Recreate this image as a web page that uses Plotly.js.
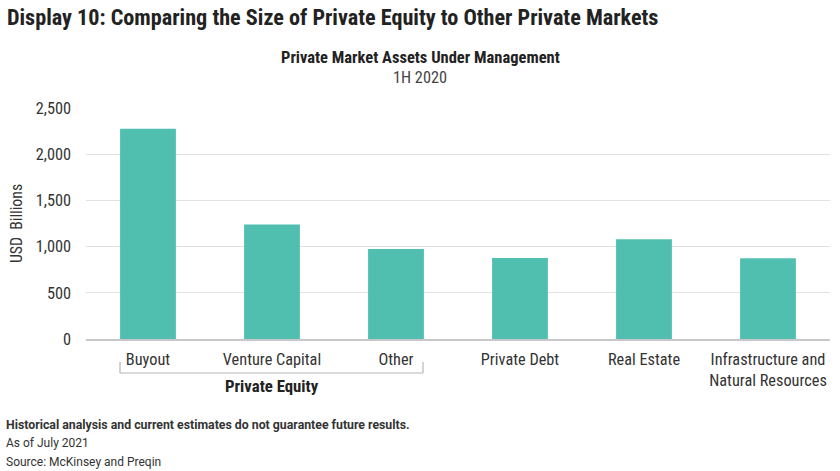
<!DOCTYPE html>
<html>
<head>
<meta charset="utf-8">
<script src="https://cdn.plot.ly/plotly-3.0.1.min.js"></script>
<style>
html,body{margin:0;padding:0;background:#fff;}
#chart{width:840px;height:471px;}
text{font-stretch:condensed;}
</style>
</head>
<body>
<div id="chart"></div>
<script>
var categories = ["Buyout", "Venture Capital", "Other", "Private Debt", "Real Estate", "Infrastructure and<br>Natural Resources"];
var aumValues = [2275, 1240, 975, 877, 1080, 873];
var yTickVals = [0, 500, 1000, 1500, 2000, 2500];
var yTickText = ["0", "500", "1,000", "1,500", "2,000", "2,500"];

var condFont = "Roboto, sans-serif";
var footFont = "Roboto, sans-serif";

var trace = {
  type: "bar",
  x: categories,
  y: aumValues,
  marker: {color: "#50bfaf", line: {width: 0}},
  hoverinfo: "none"
};

function footer(t, bold) {
  var s = '<span style="font-stretch:normal">' + t + '</span>';
  return bold ? '<b>' + s + '</b>' : s;
}

var layout = {
  width: 840, height: 471,
  margin: {l: 86, r: 10, t: 108, b: 132},
  paper_bgcolor: "#fff", plot_bgcolor: "#fff",
  showlegend: false,
  bargap: 0.55,
  xaxis: {
    type: "category",
    showgrid: false,
    showline: true, linecolor: "#c8c8c8", linewidth: 1.5,
    ticks: "",
    tickfont: {family: condFont, size: 16.3, color: "#333"},
    ticklabelstandoff: 5,
    fixedrange: true
  },
  yaxis: {
    range: [0, 2500],
    tickvals: yTickVals, ticktext: yTickText,
    showgrid: true, gridcolor: "#e2e2e2", gridwidth: 1,
    zeroline: false, showline: false, ticks: "",
    tickfont: {family: condFont, size: 16.3, color: "#333"},
    ticklabelstandoff: 14,
    title: {text: "USD  Billions", font: {family: condFont, size: 15.8, color: "#333"}, standoff: 9},
    fixedrange: true
  },
  shapes: [
    {type: "line", xref: "paper", yref: "paper", x0: (120-86)/744, x1: (120-86)/744, y0: -(362-339)/231, y1: -(373-339)/231, line: {color: "#b5b5b5", width: 1.2}},
    {type: "line", xref: "paper", yref: "paper", x0: (423-86)/744, x1: (423-86)/744, y0: -(362-339)/231, y1: -(373-339)/231, line: {color: "#b5b5b5", width: 1.2}},
    {type: "line", xref: "paper", yref: "paper", x0: (120-86)/744, x1: (423-86)/744, y0: -(373-339)/231, y1: -(373-339)/231, line: {color: "#b5b5b5", width: 1.2}}
  ],
  annotations: [
    {xref: "paper", yref: "paper", x: (5-86)/744, y: (339-17)/231, text: "<b>Display 10: Comparing the Size of Private Equity to Other Private Markets</b>", showarrow: false, xanchor: "left", yanchor: "middle", font: {family: condFont, size: 22.2, color: "#222"}},
    {xref: "paper", yref: "paper", x: (420-86)/744, y: (339-57)/231, text: "<b>Private Market Assets Under Management</b>", showarrow: false, xanchor: "center", yanchor: "middle", font: {family: condFont, size: 16.5, color: "#222"}},
    {xref: "paper", yref: "paper", x: (420-86)/744, y: (339-77)/231, text: "1H 2020", showarrow: false, xanchor: "center", yanchor: "middle", font: {family: condFont, size: 16.3, color: "#444"}},
    {xref: "paper", yref: "paper", x: (272-86)/744, y: -(386-339)/231, text: "<b>Private Equity</b>", showarrow: false, xanchor: "center", yanchor: "middle", font: {family: condFont, size: 16.8, color: "#222"}},
    {xref: "paper", yref: "paper", x: (4-86)/744, y: -(425-339)/231, text: footer("Historical analysis and current estimates do not guarantee future results.", true), showarrow: false, xanchor: "left", yanchor: "middle", font: {family: footFont, size: 12.3, color: "#333"}},
    {xref: "paper", yref: "paper", x: (4-86)/744, y: -(443-339)/231, text: footer("As of July 2021", false), showarrow: false, xanchor: "left", yanchor: "middle", font: {family: footFont, size: 12, color: "#333"}},
    {xref: "paper", yref: "paper", x: (4-86)/744, y: -(462-339)/231, text: footer("Source: McKinsey and Preqin", false), showarrow: false, xanchor: "left", yanchor: "middle", font: {family: footFont, size: 12, color: "#333"}}
  ]
};

Plotly.newPlot("chart", [trace], layout, {displayModeBar: false, staticPlot: true});
</script>
</body>
</html>
